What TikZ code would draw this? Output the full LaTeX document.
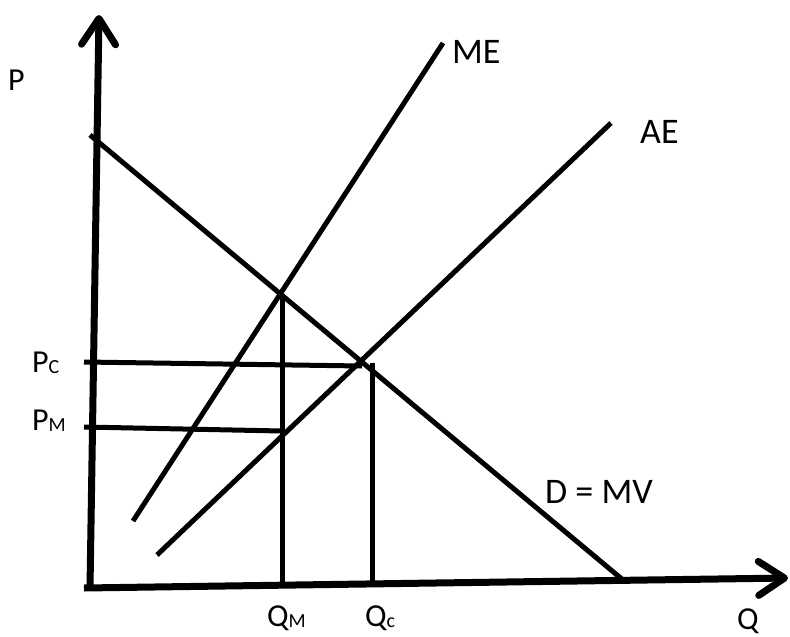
\documentclass[tikz,border=0pt]{standalone}
\usepackage{fontspec}
\setmainfont{Carlito}
\usetikzlibrary{arrows.meta}

\newcommand\lowidx[1]{\raisebox{-0.06em}{\fontsize{20}{22}\selectfont #1}}

\begin{document}
\begin{tikzpicture}[x=1pt,y=-1pt,
        axis/.style={line width=7pt,-{Straight Barb[length=26pt,width=34pt,round]}},
        curve/.style={line width=5pt},
        axislbl/.style={font=\fontsize{32}{36}\selectfont,inner sep=0pt,anchor=base west},
        curvelbl/.style={font=\fontsize{36}{40}\selectfont,inner sep=0pt,anchor=base west}]
    \useasboundingbox (0,0) rectangle (790,637);

    % axes
    \coordinate (origin) at (90,588);
    \coordinate (ytop) at (99,15);
    \coordinate (xleft) at (84,588);
    \coordinate (xend) at (788,578);
    \draw[axis] (origin) -- (ytop);
    \draw[axis] (xleft) -- (xend);

    % curves
    \coordinate (dtop) at (90,135);
    \coordinate (dbot) at (623,580);
    \coordinate (mebot) at (133,521);
    \coordinate (metop) at (443,43);
    \coordinate (aebot) at (157,555);
    \coordinate (aetop) at (611,123);
    \draw[curve] (dtop) -- (dbot);
    \draw[curve] (mebot) -- (metop);
    \draw[curve] (aebot) -- (aetop);

    % guide lines
    \coordinate (qmtop) at (282,294);
    \coordinate (qmbot) at (282,585);
    \coordinate (qctop) at (372,363);
    \coordinate (qcbot) at (372,583);
    \coordinate (pcleft) at (84,362);
    \coordinate (pcright) at (362,366);
    \coordinate (pmleft) at (84,427);
    \coordinate (pmright) at (282,431);
    \draw[curve] (qmtop) -- (qmbot);
    \draw[curve] (qctop) -- (qcbot);
    \draw[curve] (pcleft) -- (pcright);
    \draw[curve] (pmleft) -- (pmright);

    % labels
    \node[axislbl] (plbl) at (8,90) {P};
    \node[axislbl] (qlbl) at (737,629) {Q};
    \node[axislbl] (pclbl) at (32,372) {P\lowidx{C}};
    \node[axislbl] (pmlbl) at (32,430) {P\lowidx{M}};
    \node[axislbl] (qmlbl) at (267,626) {Q\lowidx{M}};
    \node[axislbl] (qclbl) at (365,626) {Q\lowidx{c}};
    \node[curvelbl] (melbl) at (452,63) {ME};
    \node[curvelbl] (aelbl) at (640,143) {AE};
    \node[curvelbl] (dlbl) at (545,503) {D = MV};
\end{tikzpicture}
\end{document}
